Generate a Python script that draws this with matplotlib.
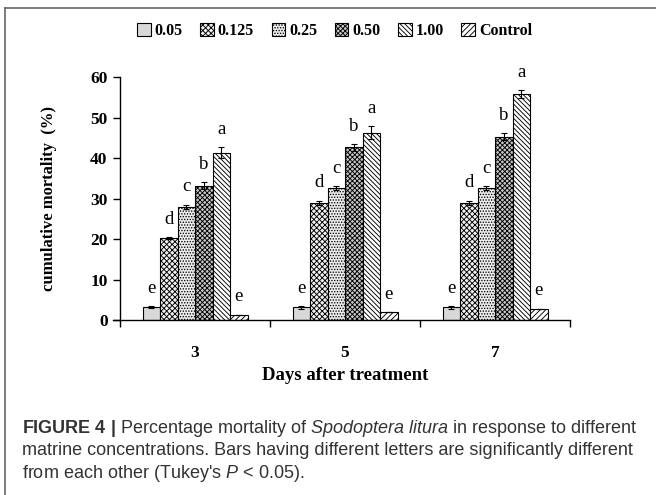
import matplotlib.pyplot as plt
import numpy as np
from matplotlib.lines import Line2D
from matplotlib.patches import Patch

# data
days = ["3", "5", "7"]
concs = ["0.05", "0.125", "0.25", "0.50", "1.00", "Control"]
mortality = {
    "0.05": [3.2, 3.1, 3.1],
    "0.125": [20.2, 29.0, 29.0],
    "0.25": [28.0, 32.5, 32.5],
    "0.50": [33.2, 42.6, 45.3],
    "1.00": [41.3, 46.3, 55.8],
    "Control": [1.3, 2.0, 2.8],
}
errors = {
    "0.05": [0.3, 0.3, 0.3],
    "0.125": [0.3, 0.5, 0.5],
    "0.25": [0.5, 0.5, 0.5],
    "0.50": [0.8, 0.9, 0.9],
    "1.00": [1.4, 1.6, 1.0],
    "Control": [0.0, 0.0, 0.0],
}
letters = ["e", "d", "c", "b", "a", "e"]

colors = ["#d8d8d8", "#f0f0f0", "#ececec", "#c8c8c8", "white", "white"]
hatches = [None, "xxxxxx", "......", "xxxxxxx", "\\\\\\\\\\\\\\", "//////"]

serif = "Liberation Serif"
plt.rcParams["hatch.linewidth"] = 0.65
plt.rcParams["mathtext.fontset"] = "custom"
plt.rcParams["mathtext.rm"] = "Liberation Sans"
plt.rcParams["mathtext.it"] = "Liberation Sans:italic"
plt.rcParams["mathtext.bf"] = "Liberation Sans:bold"

fig = plt.figure(figsize=(6.56, 4.95), dpi=100)
ax = fig.add_axes([0.183, 0.3535, 0.686, 0.4909])

x = np.arange(len(days))
w = 0.7 / len(concs)
for i, c in enumerate(concs):
    pos = x - 0.35 + w * (i + 0.5)
    ax.bar(pos, mortality[c], width=w, color=colors[i], hatch=hatches[i],
           edgecolor="black", linewidth=0.8, label=c)
    ax.errorbar(pos, mortality[c], yerr=errors[c], fmt="none", ecolor="black",
                elinewidth=0.8, capsize=2.5, capthick=0.8)
    for p, v, e in zip(pos, mortality[c], errors[c]):
        ax.text(p, v + e + 2.3, letters[i], ha="center", va="bottom",
                fontsize=13.5, family=serif, clip_on=False)

ax.set_xlim(-0.5, 2.5)
ax.set_ylim(0, 60)
ax.set_yticks(range(0, 61, 10))
ax.set_xticks([-0.5, 0.5, 1.5, 2.5])
ax.set_xticklabels([])
ax.tick_params(axis="x", direction="out", length=5, width=1)
ax.tick_params(axis="y", direction="out", length=5, width=1, pad=4)
for lab in ax.get_yticklabels():
    lab.set_family(serif)
    lab.set_fontweight("bold")
    lab.set_fontsize(12.5)
for xi, d in zip(x, days):
    ax.text(xi, -8.2, d, ha="center", va="center", fontsize=12.5,
            family=serif, fontweight="bold")
ax.text(1, -13.8, "Days after treatment", ha="center", va="center",
        fontsize=13.5, family=serif, fontweight="bold")
ax.set_ylabel("cumulative mortality  (%)", family=serif, fontweight="bold",
              fontsize=12, labelpad=24)
ax.spines["top"].set_visible(False)
ax.spines["right"].set_visible(False)
ax.spines["left"].set_linewidth(1)
ax.spines["bottom"].set_linewidth(1)
ax.spines["bottom"].set_bounds(-0.55, 2.5)

handles = [Patch(facecolor=colors[i], hatch=hatches[i], edgecolor="black",
                 linewidth=0.8, label=c) for i, c in enumerate(concs)]
fig.legend(handles=handles, loc="center", bbox_to_anchor=(0.51, 0.938),
           ncol=6, frameon=False, handlelength=0.85, handleheight=0.85,
           handletextpad=0.25, columnspacing=1.1,
           prop={"family": serif, "weight": "bold", "size": 11.5})

# frame lines (left and top)
fig.add_artist(Line2D([0.008, 0.008], [0, 0.984], color="#666666", lw=1.2))
fig.add_artist(Line2D([0.008, 1.0], [0.984, 0.984], color="#666666", lw=1.2))

cap_col = "#333333"
cap_kw = dict(fontsize=13, family="Liberation Sans", color=cap_col,
              va="center")
fig.text(0.034, 0.135, "$\\bf{FIGURE\\ 4\\ |}$ Percentage mortality of "
         "$\\it{Spodoptera\\ litura}$ in response to different", **cap_kw)
fig.text(0.034, 0.089, "matrine concentrations. Bars having different letters "
         "are significantly different", **cap_kw)
fig.text(0.034, 0.043, "from each other (Tukey's $\\it{P}$ < 0.05).", **cap_kw)

fig.savefig("out.png", dpi=100)
